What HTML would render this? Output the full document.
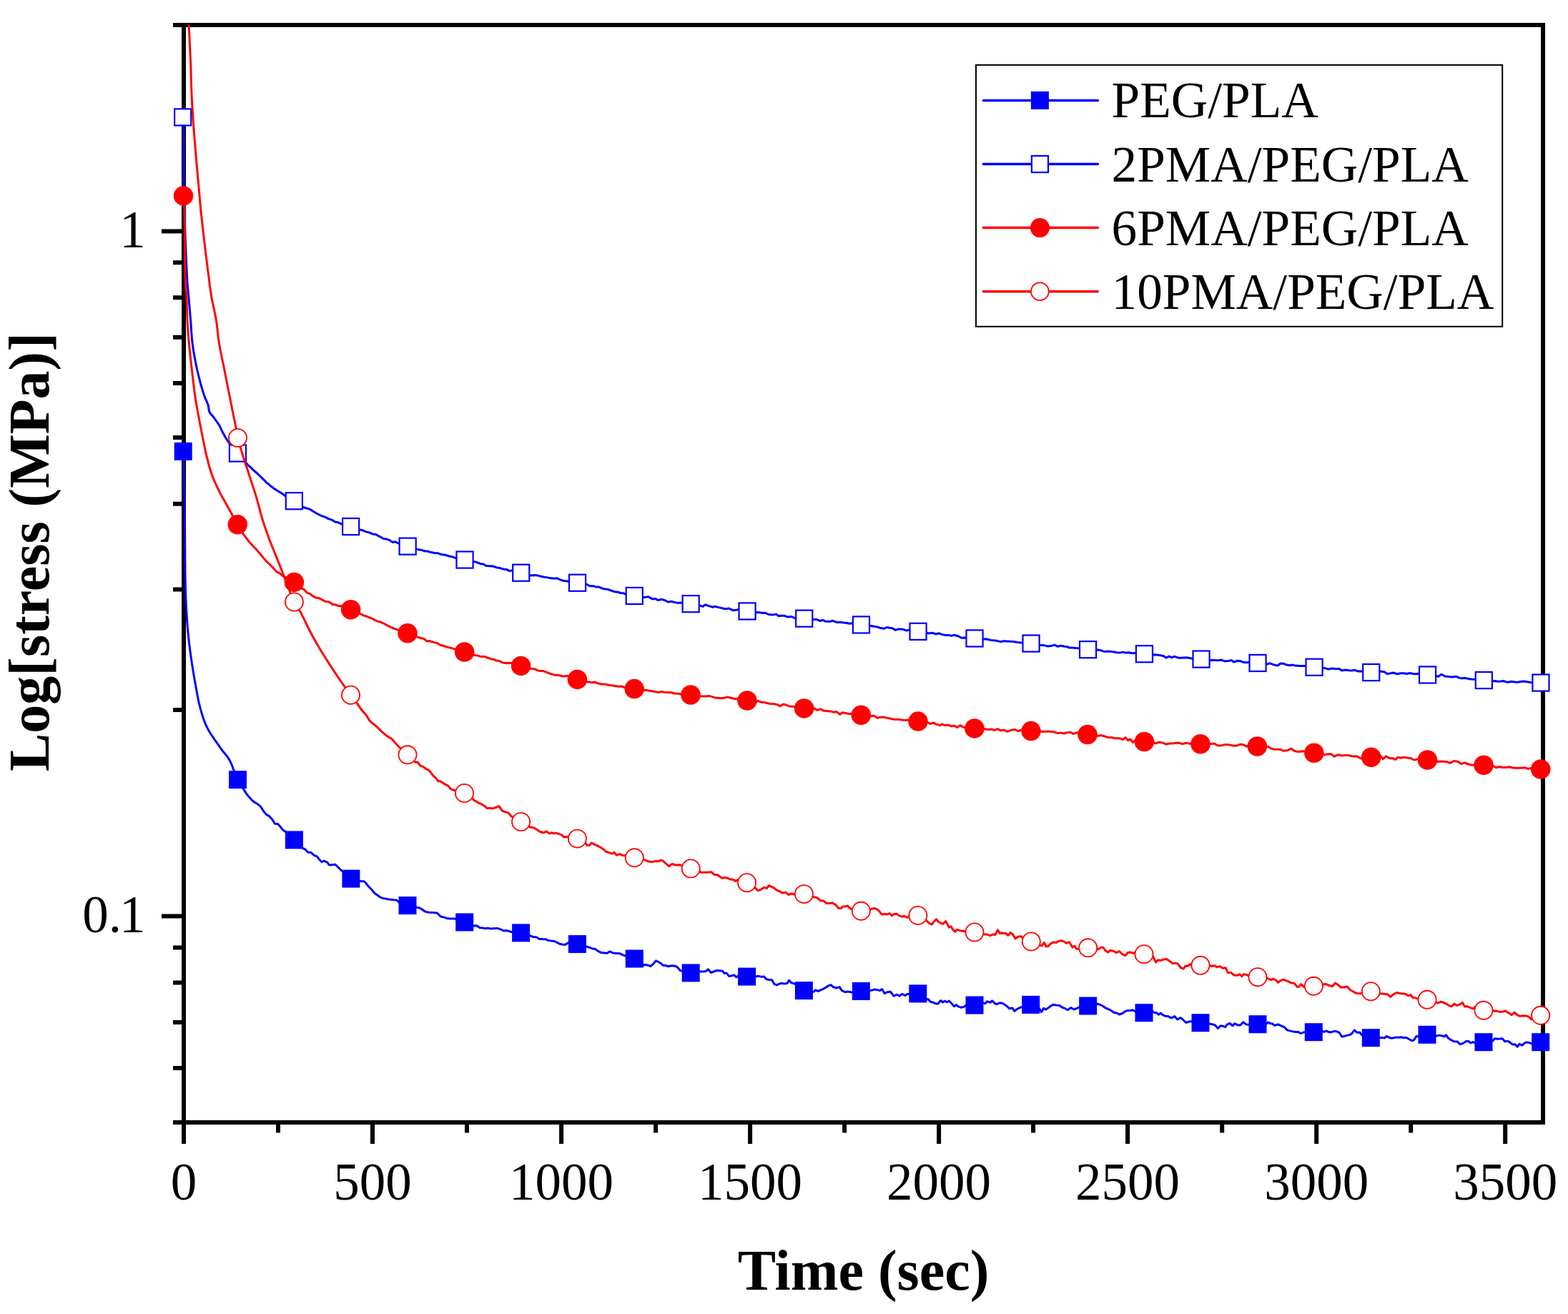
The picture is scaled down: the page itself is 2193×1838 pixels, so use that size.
<!DOCTYPE html><html><head><meta charset="utf-8"><title>Stress relaxation</title><style>html,body{margin:0;padding:0;background:#fff;overflow:hidden}svg{display:block}</style></head><body><svg width="2193" height="1838" viewBox="0 0 2193 1838">
<rect width="2193" height="1838" fill="#fff"/>
<defs><clipPath id="pc"><rect x="237.0" y="35.0" width="1941.0" height="1555.0"/></clipPath></defs>
<g stroke="#000" stroke-width="6.0" fill="none" stroke-linecap="butt">
<path d="M242.0,35.0 H2161.0 M242.0,1570.0 H2161.0 M257.0,32.0 V1573.0 M2158.0,32.0 V1573.0"/>
<path d="M242.0,1494.1 H257.0 M242.0,1430.0 H257.0 M242.0,1374.4 H257.0 M242.0,1325.4 H257.0 M242.0,993.1 H257.0 M242.0,824.4 H257.0 M242.0,704.7 H257.0 M242.0,611.9 H257.0 M242.0,536.0 H257.0 M242.0,471.8 H257.0 M242.0,416.3 H257.0 M242.0,367.3 H257.0 M226.0,1281.6 H257.0 M226.0,323.4 H257.0 M257.0,1570.0 V1600.0 M389.0,1570.0 V1584.5 M521.0,1570.0 V1600.0 M653.0,1570.0 V1584.5 M785.1,1570.0 V1600.0 M917.1,1570.0 V1584.5 M1049.1,1570.0 V1600.0 M1181.1,1570.0 V1584.5 M1313.1,1570.0 V1600.0 M1445.1,1570.0 V1584.5 M1577.1,1570.0 V1600.0 M1709.2,1570.0 V1584.5 M1841.2,1570.0 V1600.0 M1973.2,1570.0 V1584.5 M2105.2,1570.0 V1600.0"/>
</g>
<g font-family="'Liberation Serif', 'Times New Roman', serif" font-size="73" fill="#000">
<text x="257.0" y="1678.2" text-anchor="middle">0</text>
<text x="521.0" y="1678.2" text-anchor="middle">500</text>
<text x="785.1" y="1678.2" text-anchor="middle">1000</text>
<text x="1049.1" y="1678.2" text-anchor="middle">1500</text>
<text x="1313.1" y="1678.2" text-anchor="middle">2000</text>
<text x="1577.1" y="1678.2" text-anchor="middle">2500</text>
<text x="1841.2" y="1678.2" text-anchor="middle">3000</text>
<text x="2105.2" y="1678.2" text-anchor="middle">3500</text>
<text x="203.8" y="346.4" text-anchor="end">1</text>
<text x="203.6" y="1304.1" text-anchor="end">0.<tspan dx="-3">1</tspan></text>
</g>
<text x="1207.5" y="1804" text-anchor="middle" font-family="'Liberation Serif', 'Times New Roman', serif" font-weight="bold" font-size="80">Time (sec)</text>
<text transform="translate(68,1079) rotate(-90)" x="0" y="0" font-family="'Liberation Serif', 'Times New Roman', serif" font-weight="bold" font-size="80">Log[stress (MPa)]</text>
<g clip-path="url(#pc)">
<path d="M256.2,631.4L256.2,632.5L256.3,633.6L256.3,634.8L256.4,636.2L256.5,637.7L256.5,639.3L256.6,641.1L256.7,643.1L256.8,645.3L256.9,647.7L256.9,650.4L257.0,653.3L257.1,656.5L257.2,660.0L257.2,661.4L257.3,663.0L257.3,664.5L257.3,666.1L257.4,667.8L257.4,669.5L257.4,671.3L257.5,673.1L257.5,675.0L257.6,676.9L257.6,678.8L257.6,680.8L257.7,682.8L257.7,684.8L257.7,686.9L257.8,689.0L257.8,691.1L257.9,693.3L257.9,695.4L257.9,697.6L258.0,699.8L258.0,702.0L258.1,704.3L258.1,706.5L258.1,708.8L258.2,711.1L258.2,713.3L258.2,715.6L258.3,717.9L258.3,720.1L258.3,722.4L258.4,724.7L258.4,726.9L258.4,729.2L258.5,731.4L258.5,733.6L258.5,735.5L258.5,737.4L258.6,739.4L258.6,741.4L258.6,743.4L258.6,745.4L258.6,747.5L258.7,749.5L258.7,751.6L258.7,753.7L258.7,755.8L258.7,757.9L258.7,760.1L258.7,762.2L258.7,764.4L258.7,766.5L258.8,768.7L258.8,770.8L258.8,773.0L258.8,775.1L258.8,777.3L258.8,779.4L258.8,781.6L258.8,783.7L258.8,785.8L258.9,788.0L258.9,790.1L258.9,792.1L258.9,794.2L258.9,796.3L259.0,798.3L259.0,800.3L259.0,802.3L259.0,804.3L259.1,806.2L259.1,808.1L259.1,810.0L259.1,811.8L259.2,813.7L259.2,815.4L259.3,817.2L259.3,818.9L259.4,821.4L259.4,823.9L259.5,826.3L259.6,828.6L259.7,830.9L259.7,833.2L259.8,835.4L259.9,837.6L260.0,839.8L260.1,841.9L260.2,843.9L260.3,846.0L260.4,848.0L260.5,850.0L260.6,851.9L260.7,853.8L260.8,855.7L260.9,857.6L261.1,859.5L261.2,861.3L261.3,863.2L261.4,865.0L261.5,866.8L261.7,868.6L261.8,870.4L261.9,872.1L262.1,873.9L262.2,875.7L262.4,878.0L262.6,880.3L262.8,882.5L263.0,884.7L263.2,886.8L263.4,888.9L263.6,890.9L263.8,893.0L264.0,894.9L264.2,896.9L264.5,898.9L264.7,900.8L264.9,902.7L265.2,904.6L265.4,906.5L265.7,908.5L265.9,910.4L266.2,912.3L266.4,914.3L266.7,916.3L267.0,918.3L267.3,920.3L267.6,922.4L267.9,924.5L268.2,926.6L268.5,928.8L268.9,930.9L269.2,933.1L269.6,935.2L269.9,937.3L270.3,939.5L270.6,941.6L271.0,943.7L271.3,945.8L271.7,947.8L272.0,949.8L272.4,951.8L272.7,953.8L273.0,955.7L273.4,957.5L273.7,959.3L274.0,961.0L274.4,963.5L274.9,965.8L275.2,968.0L275.6,970.1L276.0,972.2L276.4,974.1L276.7,976.0L277.1,977.9L277.5,979.8L277.9,981.6L278.3,983.5L278.8,985.4L279.3,987.3L279.8,989.3L280.3,991.2L280.8,993.1L281.4,995.0L281.9,996.9L282.5,998.8L283.1,1000.7L283.6,1002.6L284.3,1004.4L284.9,1006.3L285.6,1008.2L286.3,1010.1L287.1,1012.0L287.9,1013.9L288.8,1015.8L289.7,1017.7L290.6,1019.5L291.6,1021.3L292.7,1023.2L293.9,1025.0L295.0,1026.9L296.3,1028.8L297.5,1030.7L298.8,1032.5L300.0,1034.4L301.3,1036.2L302.6,1038.0L303.8,1039.7L305.0,1041.4L306.1,1043.0L307.2,1044.5L308.2,1046.0L309.7,1048.1L311.1,1050.0L312.5,1051.7L313.8,1053.2L315.0,1054.7L316.2,1056.1L317.4,1057.6L318.6,1059.3L319.8,1061.1L321.0,1063.2L321.9,1064.9L322.7,1066.7L323.6,1068.6L324.4,1070.5L325.2,1072.6L326.0,1074.7L326.8,1076.8L327.6,1079.0L328.4,1081.1L329.3,1083.1L330.1,1085.1L330.9,1087.1L331.7,1088.9L332.5,1090.6L333.7,1092.8L334.9,1095.0L336.1,1097.1L337.3,1099.1L338.5,1100.9L339.7,1102.7L340.0,1102.8L343.7,1108.9L347.7,1114.1L352.2,1119.1L355.5,1122.0L358.3,1123.4L363.2,1126.9L365.8,1130.0L368.6,1134.7L372.4,1139.2L376.9,1141.9L381.1,1146.8L384.4,1152.2L388.7,1152.6L391.9,1156.2L395.4,1160.7L399.0,1163.1L403.8,1168.0L407.3,1171.3L410.4,1174.0L413.8,1177.0L418.6,1181.3L422.8,1185.9L427.1,1188.4L430.9,1192.3L434.4,1192.2L439.3,1196.4L443.3,1197.9L446.1,1201.7L450.0,1205.8L453.0,1204.2L457.6,1206.1L460.4,1210.0L463.9,1209.8L468.8,1209.2L471.8,1212.0L476.6,1216.8L480.9,1220.4L484.0,1224.6L487.6,1227.0L490.4,1228.8L493.6,1230.1L497.7,1230.8L500.5,1231.5L504.4,1232.5L509.2,1232.7L511.9,1235.5L514.9,1239.5L518.9,1243.4L523.8,1249.2L528.0,1252.3L530.7,1254.3L535.0,1256.5L538.7,1256.9L542.1,1257.8L546.5,1258.2L550.8,1258.8L554.3,1258.9L559.0,1262.9L563.6,1264.1L567.7,1265.8L570.5,1266.7L575.5,1268.1L579.8,1267.9L583.5,1269.5L586.2,1269.7L589.9,1271.7L594.0,1274.8L597.2,1275.7L600.4,1276.2L605.1,1276.5L608.5,1276.8L611.6,1277.2L616.3,1282.0L620.3,1282.9L624.8,1284.4L629.1,1285.1L632.8,1285.0L636.0,1284.9L639.3,1287.4L644.2,1288.3L648.9,1289.7L653.2,1291.2L655.9,1292.1L659.6,1294.7L662.5,1294.9L666.6,1294.8L671.1,1297.7L675.4,1298.1L678.0,1298.8L682.3,1298.3L686.6,1299.1L690.6,1298.8L695.4,1298.4L700.2,1300.0L704.2,1301.9L707.8,1301.5L712.6,1302.8L716.7,1304.1L720.8,1304.6L724.0,1304.4L727.9,1304.8L731.3,1305.6L734.1,1306.4L738.0,1306.6L741.7,1308.8L745.5,1310.6L750.5,1311.0L754.3,1313.4L758.3,1313.6L762.7,1313.7L766.6,1315.4L770.5,1316.1L775.3,1316.5L779.3,1318.4L782.6,1320.3L786.2,1321.0L790.1,1321.6L794.9,1318.8L797.7,1320.5L802.5,1320.3L806.1,1320.5L809.9,1321.0L814.6,1322.7L817.5,1322.8L821.8,1324.5L824.5,1325.4L828.9,1327.1L832.7,1327.6L836.7,1330.7L841.0,1332.6L845.5,1332.9L849.4,1333.2L852.6,1330.9L856.6,1332.7L860.0,1333.4L864.1,1333.6L867.2,1333.8L871.9,1336.1L875.5,1337.2L879.4,1338.1L883.9,1339.7L887.8,1341.3L892.1,1343.7L895.6,1346.6L899.3,1350.3L902.3,1349.5L907.0,1350.3L909.7,1351.8L913.9,1348.1L917.4,1343.9L919.9,1345.0L924.3,1347.5L927.7,1350.6L930.6,1350.5L934.8,1351.7L939.2,1350.8L942.8,1350.9L947.1,1352.5L951.3,1357.5L954.7,1358.5L958.8,1357.8L962.2,1360.0L965.8,1360.8L970.4,1360.9L975.0,1359.9L978.0,1358.7L981.6,1359.0L984.6,1358.9L987.4,1358.4L990.4,1355.8L994.3,1360.5L997.4,1359.3L1002.0,1357.5L1006.7,1357.8L1010.5,1358.2L1013.1,1361.5L1016.0,1361.1L1019.8,1365.6L1023.5,1364.8L1026.8,1363.9L1029.9,1367.0L1033.1,1364.0L1036.5,1365.7L1039.1,1365.7L1043.2,1366.0L1047.4,1366.3L1051.6,1366.3L1056.1,1366.2L1060.4,1365.2L1063.2,1365.9L1065.8,1366.2L1068.6,1365.9L1071.7,1369.5L1075.1,1370.5L1079.7,1370.8L1082.7,1376.4L1086.6,1377.9L1089.7,1376.2L1093.6,1375.3L1096.5,1376.1L1101.0,1375.6L1103.5,1371.3L1107.2,1374.9L1109.9,1375.4L1113.2,1377.2L1116.2,1380.2L1118.9,1383.2L1123.1,1385.2L1126.6,1386.1L1130.8,1386.0L1134.1,1387.4L1138.2,1387.2L1140.9,1384.7L1143.6,1386.5L1147.6,1385.0L1151.8,1383.1L1154.5,1381.4L1158.6,1378.9L1161.9,1377.6L1165.2,1380.5L1169.7,1382.0L1174.2,1380.6L1177.4,1385.7L1181.9,1387.7L1185.3,1387.1L1188.6,1387.4L1192.9,1388.5L1197.2,1387.0L1201.6,1386.7L1204.2,1386.5L1208.8,1386.0L1213.1,1386.4L1215.8,1385.8L1219.9,1385.1L1222.7,1384.1L1226.6,1384.4L1230.3,1385.7L1233.6,1383.5L1237.2,1389.7L1241.3,1387.5L1245.6,1387.3L1250.0,1393.1L1254.6,1391.2L1258.2,1393.2L1261.6,1390.4L1265.8,1392.5L1268.7,1390.5L1271.9,1390.4L1274.6,1389.3L1278.8,1389.1L1282.6,1389.6L1285.2,1390.5L1288.2,1392.3L1292.1,1395.3L1294.9,1398.3L1298.1,1397.5L1301.2,1401.2L1305.7,1402.3L1309.3,1404.1L1311.9,1404.0L1315.6,1399.5L1318.7,1402.0L1321.2,1400.1L1324.5,1401.8L1327.4,1400.0L1330.6,1403.2L1334.5,1407.7L1337.6,1405.5L1340.1,1407.8L1344.5,1409.3L1348.5,1408.1L1352.1,1405.1L1356.5,1407.4L1360.7,1406.4L1365.0,1405.6L1368.7,1404.5L1371.9,1403.8L1374.6,1402.7L1377.9,1403.9L1380.6,1400.7L1384.9,1402.4L1387.5,1399.9L1391.2,1403.4L1393.8,1404.8L1397.6,1403.0L1400.9,1402.9L1404.3,1404.8L1407.4,1406.7L1411.9,1410.8L1416.0,1410.1L1418.9,1414.3L1422.8,1411.3L1427.2,1409.1L1429.9,1409.0L1433.3,1407.9L1437.8,1406.0L1442.0,1405.4L1445.3,1406.1L1449.2,1408.4L1453.4,1410.4L1456.5,1415.7L1459.7,1410.4L1462.9,1412.1L1465.6,1410.1L1468.8,1407.8L1472.6,1405.3L1477.2,1405.9L1481.2,1406.2L1485.4,1409.0L1489.0,1410.3L1493.4,1412.7L1497.8,1409.5L1501.6,1411.7L1504.2,1411.3L1508.7,1409.1L1511.5,1409.0L1514.8,1408.2L1518.1,1407.6L1521.6,1407.0L1525.8,1406.5L1530.0,1404.7L1534.5,1404.3L1537.3,1404.8L1539.9,1406.0L1543.2,1407.8L1546.2,1409.9L1550.3,1411.7L1553.7,1413.3L1558.1,1416.4L1561.9,1417.0L1565.4,1419.0L1569.4,1417.8L1573.9,1414.6L1577.6,1413.4L1580.8,1413.5L1584.2,1412.7L1588.6,1415.2L1591.7,1415.4L1596.3,1416.1L1599.1,1416.6L1603.6,1417.0L1608.3,1417.1L1612.0,1414.6L1614.9,1416.7L1617.5,1416.5L1620.3,1419.3L1623.5,1417.1L1626.1,1419.6L1629.7,1421.2L1633.7,1421.4L1636.9,1423.6L1639.8,1423.6L1642.7,1421.6L1646.7,1425.9L1651.2,1423.6L1654.9,1426.7L1658.8,1430.5L1663.1,1429.0L1667.5,1428.6L1672.1,1429.7L1676.5,1430.3L1680.5,1430.9L1683.6,1431.5L1687.9,1431.4L1692.5,1432.2L1695.4,1432.7L1699.0,1433.6L1703.5,1438.4L1707.1,1434.7L1710.9,1435.4L1713.8,1436.6L1716.4,1432.9L1720.2,1431.5L1724.0,1434.8L1726.7,1431.7L1731.2,1433.9L1734.8,1434.1L1738.8,1429.8L1743.0,1432.9L1746.8,1433.3L1751.0,1433.7L1754.1,1432.7L1757.7,1432.7L1761.4,1432.7L1764.0,1432.5L1767.4,1431.9L1770.1,1432.7L1773.9,1429.9L1776.7,1431.7L1779.3,1431.7L1782.4,1434.5L1785.1,1433.4L1788.0,1432.9L1792.3,1435.3L1795.6,1436.3L1800.2,1440.9L1804.9,1442.1L1808.4,1442.9L1812.8,1443.4L1816.2,1443.6L1818.8,1445.6L1822.9,1444.1L1826.7,1443.2L1830.2,1444.4L1834.8,1443.7L1837.4,1443.7L1840.7,1443.6L1845.1,1442.3L1848.4,1441.8L1851.8,1443.3L1854.7,1442.0L1857.6,1443.2L1860.8,1444.0L1865.4,1442.6L1868.8,1442.6L1872.8,1444.1L1876.9,1450.2L1880.7,1449.3L1883.3,1448.4L1887.5,1447.6L1890.3,1446.0L1894.6,1440.9L1897.7,1444.3L1901.6,1444.0L1904.6,1447.8L1907.4,1447.8L1911.4,1449.9L1915.1,1451.1L1919.5,1452.0L1923.2,1452.1L1926.5,1452.4L1929.8,1451.6L1933.9,1451.4L1936.5,1452.0L1939.1,1449.4L1942.9,1451.3L1946.2,1452.2L1949.3,1451.8L1952.8,1450.9L1956.0,1451.3L1958.9,1450.7L1962.2,1451.5L1966.7,1451.3L1970.2,1453.3L1974.7,1455.8L1977.5,1455.0L1980.9,1449.6L1984.0,1449.7L1986.6,1447.4L1989.9,1448.2L1993.9,1447.5L1997.1,1447.2L2000.1,1447.2L2002.7,1446.6L2005.4,1447.0L2008.9,1449.1L2012.9,1448.1L2016.5,1448.8L2019.6,1449.9L2022.6,1447.8L2025.1,1451.7L2029.4,1454.7L2033.9,1456.8L2038.1,1456.9L2042.1,1460.8L2046.7,1459.2L2050.3,1456.6L2053.6,1456.2L2056.7,1458.9L2059.9,1457.6L2062.6,1458.6L2065.3,1457.2L2069.5,1457.5L2072.4,1457.7L2075.4,1457.7L2079.7,1457.1L2083.7,1457.5L2087.0,1456.3L2090.7,1452.8L2094.8,1453.2L2097.6,1453.1L2101.5,1452.8L2104.6,1456.8L2107.7,1456.3L2110.5,1457.0L2115.2,1460.9L2118.9,1460.8L2122.3,1464.1L2125.1,1460.2L2128.6,1462.3L2132.7,1458.6L2135.5,1457.9L2138.6,1458.4L2142.1,1459.9L2146.5,1457.8L2149.4,1458.4L2152.5,1457.9L2154.7,1457.7" fill="none" stroke="#0000ff" stroke-width="3.0" stroke-linejoin="round"/>
<rect x="243.7" y="618.9" width="25.0" height="25.0" fill="#0000ff"/><rect x="320.0" y="1078.1" width="25.0" height="25.0" fill="#0000ff"/><rect x="398.9" y="1162.4" width="25.0" height="25.0" fill="#0000ff"/><rect x="478.4" y="1216.6" width="25.0" height="25.0" fill="#0000ff"/><rect x="557.5" y="1254.1" width="25.0" height="25.0" fill="#0000ff"/><rect x="637.2" y="1277.5" width="25.0" height="25.0" fill="#0000ff"/><rect x="716.1" y="1292.4" width="25.0" height="25.0" fill="#0000ff"/><rect x="794.9" y="1308.1" width="25.0" height="25.0" fill="#0000ff"/><rect x="874.8" y="1328.5" width="25.0" height="25.0" fill="#0000ff"/><rect x="953.7" y="1348.4" width="25.0" height="25.0" fill="#0000ff"/><rect x="1032.1" y="1353.6" width="25.0" height="25.0" fill="#0000ff"/><rect x="1111.9" y="1373.1" width="25.0" height="25.0" fill="#0000ff"/><rect x="1191.8" y="1374.0" width="25.0" height="25.0" fill="#0000ff"/><rect x="1271.3" y="1377.4" width="25.0" height="25.0" fill="#0000ff"/><rect x="1350.5" y="1393.5" width="25.0" height="25.0" fill="#0000ff"/><rect x="1429.2" y="1392.9" width="25.0" height="25.0" fill="#0000ff"/><rect x="1509.2" y="1394.5" width="25.0" height="25.0" fill="#0000ff"/><rect x="1587.5" y="1404.2" width="25.0" height="25.0" fill="#0000ff"/><rect x="1666.5" y="1418.2" width="25.0" height="25.0" fill="#0000ff"/><rect x="1746.5" y="1420.2" width="25.0" height="25.0" fill="#0000ff"/><rect x="1824.8" y="1431.2" width="25.0" height="25.0" fill="#0000ff"/><rect x="1904.8" y="1439.2" width="25.0" height="25.0" fill="#0000ff"/><rect x="1983.5" y="1434.8" width="25.0" height="25.0" fill="#0000ff"/><rect x="2062.5" y="1445.2" width="25.0" height="25.0" fill="#0000ff"/><rect x="2142.2" y="1445.2" width="25.0" height="25.0" fill="#0000ff"/>
<path d="M257.0,176.0L257.0,177.1L257.0,178.4L257.0,179.8L257.1,181.4L257.1,183.1L257.1,184.9L257.1,186.9L257.1,188.9L257.1,191.1L257.2,193.3L257.2,195.5L257.2,197.8L257.2,200.1L257.3,202.4L257.3,204.8L257.3,207.1L257.3,209.4L257.3,211.6L257.4,213.9L257.4,216.0L257.4,218.0L257.4,220.0L257.4,222.1L257.4,224.2L257.4,226.2L257.4,228.3L257.5,230.3L257.5,232.3L257.5,234.3L257.5,236.3L257.5,238.3L257.5,240.2L257.5,242.2L257.5,244.2L257.5,246.2L257.5,248.1L257.5,250.1L257.5,252.1L257.6,254.0L257.6,256.0L257.6,258.0L257.6,260.0L257.6,262.0L257.6,264.0L257.7,266.0L257.7,268.0L257.7,270.0L257.7,272.0L257.8,274.0L257.8,276.0L257.8,278.0L257.8,280.0L257.9,282.0L257.9,284.0L257.9,286.0L258.0,288.0L258.0,290.0L258.0,292.0L258.1,294.0L258.1,296.0L258.2,298.0L258.2,300.0L258.2,302.0L258.3,304.0L258.3,305.9L258.4,307.8L258.5,309.8L258.5,311.7L258.6,313.6L258.6,315.5L258.7,317.4L258.7,319.4L258.8,321.3L258.9,323.3L259.0,325.3L259.0,327.3L259.1,329.3L259.2,331.4L259.2,333.5L259.3,335.6L259.4,337.8L259.5,340.0L259.6,341.8L259.6,343.7L259.7,345.7L259.8,347.7L259.9,349.8L260.0,351.9L260.1,354.0L260.1,356.2L260.2,358.3L260.3,360.5L260.4,362.7L260.5,364.9L260.6,367.1L260.7,369.3L260.8,371.4L260.9,373.5L261.0,375.6L261.1,377.6L261.2,379.6L261.3,381.5L261.3,383.4L261.4,385.1L261.5,386.9L261.6,388.5L261.7,390.0L261.9,392.9L262.0,395.4L262.2,397.6L262.4,399.6L262.5,401.3L262.7,403.0L262.8,404.6L263.0,406.2L263.2,407.9L263.4,409.7L263.6,411.7L263.8,414.0L263.9,415.7L264.1,417.6L264.2,419.4L264.4,421.4L264.5,423.3L264.7,425.3L264.9,427.4L265.1,429.5L265.2,431.5L265.4,433.6L265.6,435.7L265.8,437.8L265.9,439.9L266.1,442.0L266.3,444.0L266.4,446.0L266.6,448.0L266.8,450.1L266.9,452.1L267.1,454.2L267.2,456.3L267.3,458.3L267.5,460.4L267.6,462.4L267.7,464.4L267.9,466.5L268.0,468.5L268.2,470.4L268.3,472.4L268.5,474.3L268.7,476.3L268.9,478.1L269.1,480.0L269.4,482.2L269.7,484.5L270.0,486.6L270.3,488.8L270.6,490.9L271.0,493.0L271.3,495.0L271.7,497.1L272.1,499.1L272.5,501.1L272.8,503.1L273.2,505.0L273.6,507.0L274.0,509.1L274.4,511.2L274.9,513.3L275.3,515.3L275.8,517.3L276.2,519.3L276.7,521.3L277.2,523.3L277.6,525.2L278.1,527.2L278.6,529.1L279.1,531.0L279.7,533.1L280.2,535.2L280.8,537.4L281.4,539.5L282.0,541.6L282.6,543.7L283.2,545.7L283.8,547.7L284.4,549.6L285.0,551.3L285.5,553.0L286.4,555.4L287.2,557.5L288.1,559.4L288.9,561.1L289.6,562.8L290.3,564.4L290.9,566.0L291.5,568.2L291.7,570.3L292.0,572.3L292.3,574.2L292.9,576.0L293.8,577.7L295.0,579.2L296.3,580.7L297.6,582.3L299.0,584.0L300.2,585.6L301.4,587.3L302.7,589.1L304.0,590.9L305.3,592.7L306.4,594.5L307.4,596.3L308.2,598.0L309.1,599.8L309.9,601.6L310.8,603.5L311.8,605.5L312.8,607.3L313.8,609.1L314.9,611.0L316.0,613.0L317.3,615.0L318.6,617.0L320.0,619.0L321.2,620.6L322.5,622.2L323.9,623.9L325.3,625.6L326.7,627.3L328.2,629.0L329.7,630.7L331.1,632.4L332.5,634.0L333.8,635.6L335.2,637.2L336.5,638.9L337.8,640.5L339.1,642.1L340.4,643.6L341.7,645.2L343.1,646.7L344.5,648.2L345.0,648.2L347.7,651.4L351.0,654.1L354.7,658.0L358.5,661.0L362.9,665.2L367.1,669.4L370.4,672.4L372.8,675.2L375.5,677.1L379.9,680.8L383.0,683.2L385.8,684.9L390.0,687.6L393.3,689.5L395.8,691.2L400.3,694.7L403.5,696.1L407.4,698.4L410.9,700.5L414.4,702.7L418.0,705.1L421.3,706.9L424.9,709.8L428.8,711.0L432.6,712.0L436.0,713.9L440.5,716.8L444.9,719.2L447.8,720.8L452.2,722.3L455.3,723.4L457.8,725.0L462.3,726.7L464.8,727.4L468.6,729.9L472.2,730.4L476.6,732.7L479.4,733.3L483.9,734.6L487.8,735.6L491.6,736.8L496.6,738.8L500.4,740.5L506.2,741.4L512.0,743.9L516.2,744.8L521.0,746.9L525.1,747.4L530.7,750.3L536.3,753.5L540.4,754.1L544.5,755.4L549.2,758.5L552.6,757.8L556.5,759.7L560.5,761.1L564.5,762.4L569.7,764.0L572.9,764.9L577.3,766.2L581.1,767.7L586.7,769.1L590.4,769.6L594.2,771.0L597.8,771.0L602.6,772.6L608.0,773.4L611.8,773.7L616.8,775.4L622.5,776.2L627.7,777.7L632.2,778.7L635.9,780.1L639.7,781.3L645.4,782.0L649.6,782.9L653.1,783.7L658.5,784.6L663.4,785.6L667.6,786.8L672.9,788.8L676.6,789.3L679.9,791.5L685.4,791.7L689.4,792.0L694.9,793.9L698.1,794.2L701.3,795.3L705.3,796.4L708.9,796.6L712.3,798.6L716.9,798.1L722.2,799.9L727.1,800.9L731.4,801.7L736.5,802.6L741.9,804.9L747.6,804.6L752.4,805.1L757.9,806.6L761.2,807.2L764.4,807.6L769.2,808.6L775.0,809.3L778.7,808.7L783.2,810.9L787.8,812.3L791.6,812.8L797.4,813.5L803.1,814.3L807.8,815.3L811.0,815.9L816.4,817.4L820.5,817.3L824.9,819.7L829.8,819.7L833.9,821.1L837.4,820.9L841.3,822.7L844.7,823.8L849.3,824.3L854.0,825.8L859.9,827.8L864.4,828.3L868.1,829.5L872.2,829.7L876.3,832.0L880.5,831.9L885.5,833.1L889.3,833.8L892.9,834.1L896.8,835.2L901.7,835.4L906.4,834.7L912.1,837.7L916.5,837.4L920.3,839.6L925.4,838.2L930.5,840.0L934.5,842.1L938.7,841.3L944.3,842.6L948.3,843.4L952.5,843.0L956.5,843.4L960.0,843.9L964.8,844.4L968.3,844.9L974.0,846.4L978.1,846.8L982.8,848.4L986.6,845.8L991.4,847.6L996.8,849.3L1000.0,848.2L1004.2,849.4L1008.7,850.4L1014.2,851.7L1019.6,851.1L1025.2,853.7L1030.0,853.2L1033.7,852.4L1038.3,854.3L1043.3,854.7L1047.2,855.2L1050.7,856.1L1055.5,856.7L1061.2,856.6L1066.7,857.6L1070.5,857.3L1075.1,859.5L1080.3,860.1L1085.5,859.1L1089.1,861.7L1092.5,861.2L1096.8,861.2L1101.4,863.1L1107.0,862.5L1112.6,865.1L1116.7,864.6L1120.4,864.6L1126.1,865.3L1131.5,866.0L1137.3,866.7L1141.3,866.2L1147.1,868.5L1150.8,867.3L1154.1,869.1L1159.8,869.5L1164.7,868.3L1170.5,870.5L1175.5,870.3L1179.9,870.9L1183.6,871.2L1187.6,872.3L1192.6,871.8L1196.3,872.9L1201.9,873.6L1206.5,874.1L1210.5,874.5L1215.7,875.0L1221.2,876.0L1226.0,876.7L1230.7,878.2L1236.3,879.3L1240.2,877.5L1244.0,878.3L1247.6,878.7L1252.6,881.3L1255.8,880.1L1260.1,880.1L1263.8,880.6L1268.0,882.0L1271.4,881.1L1276.8,882.0L1282.1,883.1L1287.5,883.7L1290.7,884.1L1294.8,884.7L1298.9,886.0L1304.2,885.3L1309.3,887.0L1313.2,885.8L1316.6,887.1L1322.3,888.6L1326.8,888.4L1330.3,889.4L1334.8,888.2L1340.4,890.0L1344.6,892.3L1349.4,892.0L1355.2,892.3L1360.9,892.7L1364.1,893.0L1369.3,893.8L1374.9,894.3L1379.0,893.7L1383.0,894.8L1386.2,895.4L1390.0,895.7L1395.2,896.6L1400.0,897.8L1403.3,896.7L1408.2,896.9L1413.7,897.3L1417.3,897.4L1422.9,898.4L1428.4,899.1L1432.4,899.8L1437.6,899.5L1440.8,899.9L1445.3,900.3L1448.9,900.9L1453.2,902.3L1459.0,902.4L1464.8,903.9L1470.1,903.6L1475.0,902.1L1479.6,904.3L1484.4,903.1L1488.5,904.2L1492.3,904.6L1495.6,906.0L1499.3,906.0L1504.8,906.6L1508.5,906.7L1512.2,907.4L1516.2,908.2L1521.9,908.6L1525.1,908.9L1530.4,909.3L1535.5,909.1L1539.8,909.8L1544.9,911.6L1550.4,911.0L1555.0,911.6L1558.3,911.9L1561.8,912.8L1567.2,912.9L1570.5,912.1L1574.4,913.1L1579.0,912.7L1583.0,913.7L1586.6,913.4L1592.4,913.5L1595.9,914.3L1599.5,914.6L1604.7,915.0L1609.3,915.9L1613.7,915.7L1618.0,915.9L1623.4,916.7L1627.6,917.7L1631.1,920.1L1635.1,918.1L1638.3,919.7L1643.1,918.3L1648.1,920.2L1652.8,920.3L1658.3,919.8L1662.4,920.2L1667.7,921.3L1671.7,921.3L1675.9,921.7L1681.2,922.1L1684.6,922.4L1688.8,922.9L1693.9,923.5L1697.7,923.3L1702.9,923.8L1708.3,923.1L1713.0,924.9L1718.0,924.5L1722.0,923.6L1725.6,926.0L1731.1,924.3L1735.0,924.8L1738.9,926.3L1744.2,926.7L1749.4,925.7L1753.8,927.2L1757.4,927.3L1763.2,927.7L1767.8,928.4L1772.1,929.0L1776.2,927.8L1781.4,929.8L1786.9,931.1L1790.8,928.0L1795.1,928.2L1798.6,929.7L1803.8,930.8L1807.3,930.0L1812.0,931.1L1817.4,931.6L1822.8,931.6L1826.5,931.5L1831.0,932.8L1835.5,933.0L1840.9,933.4L1844.4,933.8L1847.6,933.4L1852.3,934.4L1857.8,936.1L1862.9,935.0L1867.7,935.4L1872.7,935.4L1877.2,938.1L1881.4,937.0L1887.0,937.8L1890.6,938.0L1894.4,937.2L1898.8,938.9L1902.6,938.8L1907.2,939.6L1912.5,940.2L1915.7,940.4L1921.3,940.7L1926.5,941.3L1931.0,939.0L1936.5,939.9L1940.1,942.4L1944.2,941.9L1948.7,941.0L1954.1,942.7L1959.0,941.7L1963.7,941.7L1967.5,942.5L1971.4,941.5L1976.6,942.5L1979.8,942.8L1984.9,942.3L1988.3,943.1L1992.1,943.6L1997.4,944.0L2001.7,944.2L2005.9,944.5L2011.4,946.4L2015.9,943.3L2021.2,946.0L2026.2,946.6L2031.5,947.1L2036.5,946.2L2040.6,948.1L2044.4,948.9L2048.3,948.2L2051.6,949.1L2057.1,950.0L2062.9,950.2L2066.9,950.8L2072.5,951.3L2078.3,951.7L2083.9,952.3L2087.5,952.7L2090.9,952.5L2095.1,953.3L2098.9,953.0L2102.7,952.5L2106.0,953.7L2109.4,954.2L2114.0,953.3L2119.0,954.0L2122.7,954.2L2126.0,953.6L2131.5,952.9L2136.0,953.7L2140.4,954.4L2144.3,954.8L2147.7,955.6L2153.4,954.9L2155.0,955.0" fill="none" stroke="#0000ff" stroke-width="3.0" stroke-linejoin="round"/>
<rect x="244.1" y="152.4" width="23.1" height="23.1" fill="#fff" stroke="#0000ff" stroke-width="2.2"/><rect x="320.9" y="622.5" width="23.1" height="23.1" fill="#fff" stroke="#0000ff" stroke-width="2.2"/><rect x="399.8" y="689.2" width="23.1" height="23.1" fill="#fff" stroke="#0000ff" stroke-width="2.2"/><rect x="479.1" y="725.0" width="23.1" height="23.1" fill="#fff" stroke="#0000ff" stroke-width="2.2"/><rect x="558.6" y="752.6" width="23.1" height="23.1" fill="#fff" stroke="#0000ff" stroke-width="2.2"/><rect x="638.5" y="771.5" width="23.1" height="23.1" fill="#fff" stroke="#0000ff" stroke-width="2.2"/><rect x="717.2" y="789.7" width="23.1" height="23.1" fill="#fff" stroke="#0000ff" stroke-width="2.2"/><rect x="796.0" y="803.7" width="23.1" height="23.1" fill="#fff" stroke="#0000ff" stroke-width="2.2"/><rect x="875.7" y="821.9" width="23.1" height="23.1" fill="#fff" stroke="#0000ff" stroke-width="2.2"/><rect x="954.6" y="833.1" width="23.1" height="23.1" fill="#fff" stroke="#0000ff" stroke-width="2.2"/><rect x="1033.5" y="843.4" width="23.1" height="23.1" fill="#fff" stroke="#0000ff" stroke-width="2.2"/><rect x="1113.2" y="853.6" width="23.1" height="23.1" fill="#fff" stroke="#0000ff" stroke-width="2.2"/><rect x="1192.9" y="862.4" width="23.1" height="23.1" fill="#fff" stroke="#0000ff" stroke-width="2.2"/><rect x="1272.5" y="871.8" width="23.1" height="23.1" fill="#fff" stroke="#0000ff" stroke-width="2.2"/><rect x="1351.5" y="881.4" width="23.1" height="23.1" fill="#fff" stroke="#0000ff" stroke-width="2.2"/><rect x="1430.5" y="888.5" width="23.1" height="23.1" fill="#fff" stroke="#0000ff" stroke-width="2.2"/><rect x="1510.0" y="897.1" width="23.1" height="23.1" fill="#fff" stroke="#0000ff" stroke-width="2.2"/><rect x="1588.9" y="903.2" width="23.1" height="23.1" fill="#fff" stroke="#0000ff" stroke-width="2.2"/><rect x="1668.5" y="910.5" width="23.1" height="23.1" fill="#fff" stroke="#0000ff" stroke-width="2.2"/><rect x="1747.5" y="915.9" width="23.1" height="23.1" fill="#fff" stroke="#0000ff" stroke-width="2.2"/><rect x="1826.5" y="921.7" width="23.1" height="23.1" fill="#fff" stroke="#0000ff" stroke-width="2.2"/><rect x="1906.2" y="929.0" width="23.1" height="23.1" fill="#fff" stroke="#0000ff" stroke-width="2.2"/><rect x="1985.0" y="932.4" width="23.1" height="23.1" fill="#fff" stroke="#0000ff" stroke-width="2.2"/><rect x="2063.8" y="940.0" width="23.1" height="23.1" fill="#fff" stroke="#0000ff" stroke-width="2.2"/><rect x="2143.4" y="943.5" width="23.1" height="23.1" fill="#fff" stroke="#0000ff" stroke-width="2.2"/>
<path d="M256.5,274.0L256.6,275.0L256.7,275.9L256.8,276.9L256.9,278.0L257.0,279.2L257.1,280.6L257.2,282.2L257.4,284.2L257.5,286.4L257.7,289.1L257.8,292.2L257.9,295.8L258.0,300.0L258.0,301.3L258.1,302.8L258.1,304.3L258.1,305.9L258.1,307.6L258.2,309.3L258.2,311.1L258.2,313.0L258.2,315.0L258.3,317.0L258.3,319.0L258.3,321.1L258.3,323.3L258.3,325.5L258.4,327.7L258.4,330.0L258.4,332.3L258.4,334.6L258.5,336.9L258.5,339.2L258.5,341.6L258.5,343.9L258.5,346.3L258.6,348.7L258.6,351.0L258.6,353.4L258.6,355.7L258.7,358.0L258.7,360.3L258.7,362.5L258.7,364.7L258.7,366.9L258.8,369.1L258.8,371.2L258.8,373.2L258.8,375.2L258.9,377.1L258.9,379.0L258.9,380.8L258.9,382.5L259.0,384.2L259.0,385.8L259.0,387.3L259.1,388.7L259.1,390.0L259.2,394.3L259.4,397.7L259.5,400.4L259.7,402.5L259.8,404.2L260.0,405.5L260.2,406.6L260.3,407.7L260.5,408.8L260.6,410.2L260.8,411.9L260.9,414.0L261.0,415.7L261.1,417.5L261.1,419.4L261.2,421.3L261.2,423.3L261.3,425.3L261.3,427.3L261.4,429.3L261.4,431.4L261.5,433.5L261.5,435.6L261.6,437.7L261.7,439.8L261.7,441.9L261.8,443.9L261.9,446.0L262.0,448.0L262.1,450.0L262.2,452.0L262.3,454.0L262.5,456.0L262.6,458.0L262.7,460.0L262.9,462.0L263.0,464.0L263.2,466.0L263.3,468.0L263.5,470.0L263.6,472.0L263.8,474.0L264.0,476.0L264.1,478.0L264.3,480.0L264.5,482.0L264.7,484.0L264.9,486.0L265.1,488.0L265.3,489.9L265.5,491.9L265.7,493.9L265.9,495.9L266.1,497.8L266.3,499.8L266.6,501.8L266.8,503.8L267.0,505.8L267.2,507.8L267.5,509.8L267.7,511.9L268.0,513.9L268.2,516.0L268.4,518.0L268.7,520.0L268.9,522.1L269.1,524.2L269.4,526.3L269.6,528.5L269.9,530.6L270.1,532.8L270.4,534.9L270.6,537.1L270.9,539.2L271.2,541.3L271.4,543.4L271.7,545.4L271.9,547.4L272.2,549.3L272.4,551.2L272.7,553.0L273.1,555.4L273.4,557.7L273.8,560.0L274.1,562.2L274.5,564.3L274.8,566.4L275.2,568.4L275.5,570.4L275.9,572.3L276.2,574.2L276.6,576.2L276.9,578.1L277.3,580.0L277.7,582.2L278.1,584.3L278.5,586.3L278.9,588.3L279.2,590.2L279.6,592.2L280.0,594.2L280.4,596.2L280.9,598.4L281.3,600.6L281.8,603.0L282.1,604.7L282.5,606.6L282.9,608.4L283.2,610.3L283.6,612.3L284.0,614.3L284.4,616.4L284.8,618.4L285.2,620.5L285.6,622.5L286.0,624.6L286.5,626.6L286.9,628.7L287.3,630.6L287.8,632.6L288.2,634.5L288.7,636.6L289.2,638.8L289.7,640.9L290.2,643.0L290.8,645.0L291.3,647.1L291.8,649.2L292.4,651.2L292.9,653.2L293.5,655.2L294.1,657.2L294.7,659.1L295.3,661.1L296.0,663.0L296.7,665.1L297.5,667.1L298.3,669.2L299.2,671.2L300.0,673.2L300.9,675.2L301.8,677.1L302.7,679.1L303.6,680.9L304.5,682.8L305.3,684.6L306.2,686.3L307.0,688.0L308.0,690.0L309.0,691.9L309.9,693.6L310.8,695.2L311.7,696.8L312.7,698.4L313.6,700.1L314.7,701.9L315.8,703.8L317.0,706.0L317.9,707.6L318.8,709.3L319.8,711.1L320.9,713.0L321.9,715.0L323.0,717.0L324.1,719.0L325.2,721.1L326.3,723.1L327.4,725.1L328.5,727.0L329.5,728.9L330.5,730.6L331.4,732.3L332.3,733.8L333.6,736.0L334.7,738.0L335.7,739.8L336.7,741.4L337.6,742.9L338.5,744.4L339.5,745.9L340.6,747.4L341.8,749.1L343.0,750.7L344.4,752.5L345.0,753.2L349.2,758.9L352.2,761.9L354.9,765.0L357.8,767.7L361.5,772.1L364.5,775.6L368.7,780.6L372.7,785.3L376.9,789.2L381.0,793.3L384.3,797.0L387.0,799.8L390.9,801.7L394.9,805.2L397.8,806.9L401.3,808.5L404.6,810.5L408.1,812.3L411.3,814.3L415.1,817.1L419.5,820.7L422.3,823.3L425.1,824.5L429.3,829.1L433.6,830.7L437.5,833.9L441.5,835.9L445.2,836.3L449.2,838.1L452.3,840.0L455.2,841.3L459.0,841.7L462.4,843.2L465.0,845.7L468.1,845.4L471.8,847.0L476.0,847.9L479.2,847.6L482.6,849.8L485.7,851.0L490.8,852.9L495.8,855.0L499.9,856.4L503.9,858.5L508.1,860.7L513.3,862.3L517.0,863.9L521.6,865.7L525.1,867.9L528.6,869.1L532.8,870.3L536.3,871.8L542.1,875.1L546.7,877.3L552.2,879.6L555.7,880.7L559.3,881.7L563.4,883.1L568.5,885.3L574.2,887.3L578.9,889.0L584.3,891.3L588.9,892.5L593.5,893.8L596.9,896.9L600.1,896.5L605.6,898.1L610.9,899.4L616.0,902.2L621.2,903.8L625.7,905.1L630.9,906.4L634.8,907.6L640.5,909.3L644.7,910.7L649.9,912.1L655.5,913.7L659.2,914.3L663.9,916.4L669.3,917.4L673.2,918.6L677.7,918.3L682.9,920.5L687.2,921.8L690.7,922.5L694.3,924.0L698.2,924.5L702.9,926.9L708.5,927.4L713.4,927.2L717.2,928.3L720.4,929.3L724.5,930.4L728.6,931.4L733.6,932.7L737.3,933.9L742.4,935.3L746.8,935.4L752.1,937.9L755.5,938.6L759.6,938.6L763.3,939.8L769.0,942.2L774.7,943.9L779.1,944.2L782.4,944.8L788.2,946.3L792.8,945.1L798.0,948.6L803.7,949.6L809.6,950.8L813.2,951.7L816.8,952.4L821.1,953.7L824.6,954.1L827.8,954.8L831.2,954.0L835.2,955.5L840.3,956.9L844.2,957.1L847.6,957.3L851.1,958.3L855.9,958.7L860.4,959.6L865.0,960.3L869.4,959.9L874.5,962.0L879.5,962.6L882.7,962.9L887.8,963.7L892.1,964.2L896.2,964.6L899.8,965.7L903.4,965.3L907.7,966.3L911.9,966.7L917.3,967.7L921.5,968.4L925.3,967.5L931.0,968.6L934.4,968.6L939.0,968.8L942.2,969.8L945.5,970.2L949.7,970.3L953.4,971.5L957.8,970.9L962.9,971.7L967.9,972.2L973.4,973.8L977.6,973.4L981.1,973.9L985.9,973.9L991.6,973.4L996.9,974.9L1000.7,976.1L1006.2,976.6L1009.4,976.5L1013.9,976.1L1017.4,974.9L1021.4,976.0L1027.1,977.5L1031.0,977.5L1034.4,978.7L1038.1,979.1L1041.4,979.6L1046.9,980.2L1052.7,981.4L1056.4,982.4L1060.2,980.3L1064.9,982.3L1070.0,982.7L1073.8,983.8L1078.1,984.4L1081.9,984.5L1087.3,985.6L1091.0,987.8L1095.6,984.9L1099.9,986.3L1104.3,987.9L1109.8,988.2L1113.1,989.7L1117.9,989.9L1123.5,990.8L1127.9,991.3L1132.3,991.6L1137.5,990.2L1143.0,993.4L1147.8,991.9L1151.4,993.9L1156.4,994.6L1161.7,994.9L1166.4,996.3L1169.7,995.5L1174.7,999.3L1178.0,996.8L1182.8,997.4L1186.0,998.4L1190.1,998.6L1195.2,999.2L1198.7,999.5L1202.0,1000.0L1207.0,1000.6L1212.5,1000.9L1218.3,1001.8L1222.0,1001.0L1227.5,1004.4L1230.6,1003.2L1236.4,1003.2L1241.5,1004.4L1245.9,1005.3L1250.5,1006.3L1256.0,1006.3L1261.6,1007.1L1265.2,1007.4L1270.1,1007.0L1273.6,1008.2L1279.3,1008.5L1283.5,1009.0L1287.1,1009.5L1290.4,1010.3L1295.9,1009.5L1300.7,1012.6L1305.4,1010.9L1308.9,1012.9L1314.5,1014.6L1317.9,1012.8L1321.4,1014.6L1325.9,1013.9L1330.6,1015.9L1334.7,1015.0L1338.7,1017.6L1342.6,1014.7L1348.1,1017.4L1351.5,1018.4L1355.2,1017.6L1359.2,1018.6L1362.4,1018.9L1366.5,1019.2L1369.7,1019.4L1373.0,1020.1L1376.2,1019.4L1381.4,1020.5L1387.2,1019.9L1390.6,1021.6L1395.4,1019.5L1399.3,1021.9L1404.0,1021.0L1408.8,1023.3L1414.2,1021.3L1419.5,1020.6L1424.2,1022.6L1428.3,1021.1L1431.8,1022.9L1435.5,1022.1L1440.9,1022.5L1445.2,1022.8L1449.4,1022.9L1453.9,1023.0L1459.6,1023.5L1465.2,1022.9L1469.5,1023.2L1474.8,1024.0L1479.5,1025.6L1482.6,1024.9L1488.2,1026.0L1492.1,1024.7L1496.9,1024.2L1501.1,1026.4L1506.7,1024.6L1511.2,1026.8L1514.7,1026.8L1517.9,1027.2L1521.8,1027.6L1525.5,1027.9L1529.6,1027.3L1535.3,1029.4L1539.7,1028.5L1544.6,1029.8L1549.5,1031.4L1554.6,1031.5L1558.4,1032.5L1562.5,1032.8L1566.1,1032.7L1570.3,1034.6L1573.9,1031.6L1577.5,1035.5L1581.0,1034.0L1584.5,1038.6L1589.2,1034.3L1593.3,1036.8L1598.0,1037.3L1601.9,1037.6L1607.7,1037.5L1611.3,1037.6L1616.1,1039.8L1621.6,1038.1L1625.9,1038.9L1630.4,1041.0L1636.0,1040.0L1641.1,1039.8L1645.5,1039.3L1648.8,1039.1L1653.7,1040.6L1658.6,1039.2L1663.0,1040.0L1668.2,1040.7L1673.4,1040.4L1677.8,1040.7L1683.3,1040.8L1688.9,1041.5L1693.6,1040.4L1698.2,1040.0L1703.7,1043.1L1708.5,1042.7L1714.4,1041.4L1720.2,1041.9L1725.1,1043.3L1730.8,1042.7L1734.7,1041.0L1740.0,1041.9L1743.5,1044.2L1747.3,1042.4L1751.9,1043.6L1756.0,1043.8L1759.8,1044.1L1763.9,1044.5L1768.5,1045.4L1773.8,1044.3L1777.2,1046.7L1781.3,1047.9L1785.9,1048.2L1789.9,1048.2L1795.4,1050.3L1801.1,1049.4L1806.1,1047.2L1809.4,1050.0L1812.9,1051.0L1817.3,1051.4L1820.9,1050.8L1826.7,1051.3L1830.8,1052.9L1836.5,1053.2L1840.6,1053.6L1844.5,1054.0L1847.7,1054.2L1852.7,1055.7L1856.6,1054.9L1861.5,1054.6L1866.2,1058.2L1872.0,1055.7L1876.1,1056.9L1880.6,1056.6L1885.4,1056.5L1888.8,1057.2L1892.7,1058.1L1897.7,1057.7L1903.1,1061.1L1907.9,1058.8L1911.6,1058.6L1916.7,1059.1L1922.5,1059.4L1926.9,1059.8L1930.7,1057.3L1934.3,1061.8L1938.3,1057.9L1944.1,1060.8L1947.9,1060.6L1951.4,1062.5L1955.4,1059.1L1959.0,1060.3L1962.9,1059.3L1968.1,1060.0L1972.5,1060.5L1978.0,1063.1L1982.4,1061.9L1986.4,1062.7L1991.0,1062.6L1995.9,1063.0L2001.5,1063.3L2006.9,1060.4L2010.6,1065.5L2014.1,1065.0L2019.4,1065.2L2023.7,1065.4L2027.9,1067.4L2033.3,1064.6L2038.8,1065.3L2043.7,1068.5L2048.7,1066.9L2052.4,1068.5L2057.9,1070.1L2061.2,1070.2L2066.0,1068.6L2070.7,1069.9L2074.3,1070.1L2078.4,1070.5L2083.9,1071.7L2089.2,1071.7L2092.6,1073.7L2097.3,1072.5L2101.5,1073.5L2105.8,1073.4L2111.5,1072.8L2115.8,1074.1L2120.0,1074.3L2124.7,1074.2L2130.1,1074.0L2133.3,1074.0L2137.0,1075.3L2140.2,1074.8L2145.3,1074.7L2150.3,1075.7L2154.8,1076.0" fill="none" stroke="#ff0000" stroke-width="3.0" stroke-linejoin="round"/>
<circle cx="256.5" cy="273.9" r="13.75" fill="#ff0000"/><circle cx="332.3" cy="733.8" r="13.75" fill="#ff0000"/><circle cx="411.4" cy="814.4" r="13.75" fill="#ff0000"/><circle cx="490.6" cy="852.8" r="13.75" fill="#ff0000"/><circle cx="570.0" cy="885.8" r="13.75" fill="#ff0000"/><circle cx="649.6" cy="912.0" r="13.75" fill="#ff0000"/><circle cx="728.6" cy="931.4" r="13.75" fill="#ff0000"/><circle cx="807.4" cy="950.4" r="13.75" fill="#ff0000"/><circle cx="887.2" cy="963.6" r="13.75" fill="#ff0000"/><circle cx="966.0" cy="972.0" r="13.75" fill="#ff0000"/><circle cx="1044.9" cy="980.0" r="13.75" fill="#ff0000"/><circle cx="1124.6" cy="990.9" r="13.75" fill="#ff0000"/><circle cx="1204.3" cy="1000.3" r="13.75" fill="#ff0000"/><circle cx="1284.0" cy="1009.1" r="13.75" fill="#ff0000"/><circle cx="1362.9" cy="1018.9" r="13.75" fill="#ff0000"/><circle cx="1442.0" cy="1022.6" r="13.75" fill="#ff0000"/><circle cx="1521.0" cy="1027.5" r="13.75" fill="#ff0000"/><circle cx="1600.4" cy="1037.5" r="13.75" fill="#ff0000"/><circle cx="1679.0" cy="1040.7" r="13.75" fill="#ff0000"/><circle cx="1758.4" cy="1044.0" r="13.75" fill="#ff0000"/><circle cx="1837.8" cy="1053.3" r="13.75" fill="#ff0000"/><circle cx="1917.7" cy="1059.2" r="13.75" fill="#ff0000"/><circle cx="1996.4" cy="1063.0" r="13.75" fill="#ff0000"/><circle cx="2075.1" cy="1070.2" r="13.75" fill="#ff0000"/><circle cx="2154.8" cy="1076.0" r="13.75" fill="#ff0000"/>
<path d="M263.0,20.0L263.1,21.0L263.2,22.2L263.3,23.5L263.5,25.3L263.7,27.7L263.9,30.9L264.1,35.0L264.2,36.4L264.2,37.8L264.3,39.3L264.4,41.0L264.5,42.7L264.6,44.5L264.7,46.3L264.8,48.2L264.9,50.2L265.0,52.2L265.1,54.3L265.2,56.4L265.3,58.6L265.4,60.8L265.5,63.0L265.6,65.2L265.7,67.4L265.8,69.6L265.9,71.9L266.0,74.1L266.1,76.3L266.2,78.5L266.3,80.7L266.4,82.9L266.5,85.0L266.6,86.9L266.7,88.9L266.7,90.9L266.8,92.8L266.9,94.8L266.9,96.8L267.0,98.8L267.0,100.8L267.1,102.8L267.1,104.8L267.2,106.8L267.3,108.8L267.3,110.8L267.4,112.9L267.4,114.9L267.5,117.0L267.5,119.0L267.6,121.1L267.7,123.2L267.8,125.2L267.8,127.3L267.9,129.4L268.0,131.5L268.1,133.6L268.2,135.7L268.3,137.9L268.4,140.0L268.5,141.9L268.6,143.9L268.7,145.8L268.8,147.7L268.9,149.7L269.1,151.6L269.2,153.6L269.3,155.5L269.4,157.5L269.6,159.4L269.7,161.4L269.8,163.4L270.0,165.4L270.1,167.4L270.2,169.4L270.4,171.4L270.5,173.4L270.7,175.4L270.8,177.4L271.0,179.5L271.1,181.5L271.3,183.6L271.4,185.7L271.6,187.7L271.8,189.8L271.9,191.9L272.1,194.0L272.3,196.1L272.4,198.3L272.6,200.4L272.8,202.3L272.9,204.3L273.1,206.3L273.2,208.3L273.4,210.4L273.6,212.4L273.8,214.6L274.0,216.7L274.1,218.8L274.3,221.0L274.5,223.2L274.7,225.4L274.9,227.6L275.1,229.8L275.3,232.0L275.5,234.1L275.7,236.3L275.9,238.5L276.1,240.6L276.3,242.8L276.5,244.9L276.6,246.9L276.8,249.0L277.0,251.0L277.2,253.0L277.4,254.9L277.5,256.8L277.7,258.7L277.9,260.5L278.0,262.2L278.2,263.9L278.3,265.5L278.5,267.1L278.6,268.6L278.9,271.7L279.1,274.5L279.3,277.0L279.5,279.3L279.7,281.3L279.9,283.2L280.0,284.9L280.2,286.6L280.3,288.2L280.5,289.9L280.6,291.6L280.8,293.4L281.0,295.4L281.2,297.6L281.5,300.0L281.7,301.8L281.9,303.6L282.1,305.5L282.3,307.5L282.5,309.5L282.8,311.6L283.0,313.7L283.2,315.8L283.5,317.9L283.7,320.1L284.0,322.3L284.2,324.5L284.5,326.6L284.7,328.8L285.0,331.0L285.2,333.1L285.4,335.2L285.7,337.2L285.9,339.3L286.2,341.2L286.4,343.1L286.6,345.0L286.9,347.3L287.1,349.6L287.4,351.8L287.7,353.9L287.9,356.1L288.2,358.1L288.5,360.2L288.7,362.2L289.0,364.2L289.2,366.2L289.5,368.1L289.7,370.1L290.0,372.0L290.2,374.0L290.5,376.0L290.7,378.0L291.0,380.0L291.3,382.0L291.5,384.0L291.8,386.1L292.0,388.1L292.3,390.1L292.5,392.1L292.8,394.1L293.0,396.1L293.3,398.1L293.5,400.0L293.8,402.0L294.1,404.0L294.4,406.0L294.7,408.0L295.0,410.0L295.3,412.0L295.6,414.0L295.9,416.0L296.3,418.0L296.7,420.0L297.1,422.0L297.5,424.1L298.0,426.1L298.4,428.1L298.8,430.1L299.3,432.1L299.7,434.1L300.1,436.1L300.5,438.1L300.9,440.1L301.3,442.1L301.7,444.1L302.1,446.1L302.4,448.0L302.7,450.0L303.0,452.1L303.3,454.1L303.5,456.0L303.7,458.0L304.0,460.0L304.2,461.9L304.4,463.9L304.6,465.8L304.8,467.8L305.0,469.8L305.2,471.8L305.5,473.8L305.8,475.8L306.1,477.9L306.4,480.0L306.7,481.9L307.1,483.9L307.4,485.9L307.8,487.9L308.2,489.9L308.6,492.0L309.0,494.1L309.5,496.2L309.9,498.2L310.3,500.3L310.8,502.4L311.2,504.4L311.6,506.5L312.1,508.5L312.5,510.4L312.9,512.3L313.2,514.2L313.6,516.0L314.0,518.2L314.5,520.4L314.9,522.5L315.3,524.6L315.7,526.6L316.1,528.6L316.5,530.6L316.8,532.5L317.2,534.4L317.6,536.3L318.0,538.2L318.3,540.1L318.7,542.0L319.1,544.0L319.5,546.1L319.9,548.2L320.4,550.3L320.8,552.4L321.2,554.5L321.6,556.5L322.0,558.6L322.4,560.7L322.8,562.7L323.2,564.8L323.7,566.9L324.1,568.9L324.5,571.0L324.9,573.1L325.4,575.3L325.8,577.5L326.3,579.7L326.7,582.0L327.2,584.2L327.7,586.4L328.1,588.5L328.5,590.6L328.9,592.6L329.3,594.5L329.7,596.3L330.0,598.0L330.5,600.6L330.8,602.6L331.0,604.4L331.2,606.0L331.5,607.7L331.9,609.8L332.5,612.4L332.9,614.0L333.4,615.7L333.9,617.6L334.4,619.5L335.0,621.6L335.6,623.7L336.2,625.8L336.9,628.0L337.5,630.1L338.1,632.2L338.8,634.3L339.4,636.3L340.0,638.2L340.5,640.0L341.2,642.3L341.9,644.3L342.5,646.2L343.1,648.1L343.7,649.9L344.3,651.7L345.0,653.6L345.7,655.6L346.5,657.9L347.3,660.5L347.8,662.1L348.4,663.9L349.0,665.7L349.6,667.6L350.2,669.5L350.9,671.5L351.6,673.5L352.2,675.6L352.9,677.7L353.6,679.8L354.3,681.9L355.0,684.1L355.6,686.2L356.3,688.3L357.0,690.4L357.6,692.5L358.2,694.5L358.8,696.5L359.4,698.5L360.0,700.6L360.5,702.7L361.1,704.7L361.7,706.8L362.2,708.9L362.8,710.9L363.3,713.0L363.9,715.0L364.4,717.1L364.9,719.1L365.5,721.0L366.0,723.0L366.6,724.9L367.1,726.8L367.7,728.6L368.4,730.8L369.1,732.9L369.8,735.0L370.5,737.1L371.2,739.1L371.9,741.1L372.6,743.1L373.3,745.0L374.0,746.9L374.7,748.8L375.3,750.6L376.0,752.4L376.7,754.2L377.3,755.9L378.1,758.0L378.9,760.0L379.6,762.0L380.4,763.9L381.1,765.7L381.9,767.5L382.6,769.2L383.3,771.0L384.0,772.8L384.8,774.6L385.5,776.4L386.3,778.3L387.0,780.1L387.6,781.7L388.3,783.4L388.9,785.1L389.7,786.9L390.5,788.9L391.4,791.1L392.4,793.8L393.6,796.8L394.2,798.2L394.8,799.8L395.4,801.5L396.1,803.2L396.8,805.1L397.6,807.1L398.3,809.1L399.1,811.1L399.9,813.3L400.8,815.4L401.6,817.6L402.4,819.7L403.3,821.9L404.1,824.1L404.9,826.2L405.7,828.3L406.5,830.3L407.3,832.2L408.1,834.1L408.8,835.9L409.5,837.6L410.2,839.2L410.8,840.7L411.4,842.0L412.9,845.2L414.1,847.4L415.2,849.0L416.1,850.2L417.0,851.3L418.0,852.6L419.2,854.4L420.7,857.0L421.4,858.3L422.2,859.8L422.9,861.3L423.7,862.9L424.6,864.6L425.4,866.3L426.3,868.1L427.2,870.0L428.1,871.9L429.0,873.8L430.0,875.7L430.9,877.7L431.9,879.6L432.9,881.6L433.8,883.5L434.8,885.4L435.8,887.3L436.8,889.2L437.8,891.0L438.8,892.8L439.8,894.6L440.8,896.4L441.9,898.2L442.9,900.0L444.0,901.8L445.1,903.7L446.2,905.5L447.2,907.3L448.3,909.1L449.4,910.9L450.5,912.7L451.6,914.5L452.7,916.3L453.8,918.1L454.9,919.8L456.0,921.6L457.1,923.3L458.2,925.0L459.3,926.8L460.5,928.6L461.7,930.5L462.9,932.3L464.1,934.2L465.3,936.0L466.6,937.9L467.8,939.7L469.0,941.5L470.2,943.3L471.3,945.0L472.5,946.7L473.6,948.4L474.7,950.0L475.8,951.5L476.8,953.0L477.8,954.5L478.7,955.8L480.2,958.0L481.7,960.1L483.0,961.9L484.2,963.6L485.3,965.2L486.4,966.7L487.5,968.1L488.5,969.4L489.5,970.8L490.6,972.2L492.0,974.1L493.3,975.7L494.6,977.1L495.8,978.6L497.1,980.2L498.4,981.9L500.0,984.7L504.8,991.7L508.0,995.7L512.3,1000.6L516.7,1007.6L520.2,1011.1L524.7,1014.5L528.8,1018.2L533.0,1022.6L536.1,1025.2L539.7,1028.5L544.3,1031.5L547.3,1033.1L550.1,1036.1L554.0,1040.5L558.4,1045.2L561.3,1047.4L564.1,1049.9L567.0,1052.9L571.2,1056.9L574.9,1060.2L577.8,1062.7L581.0,1066.3L584.0,1066.0L587.9,1071.2L591.6,1072.4L595.5,1075.3L598.6,1076.7L602.3,1080.2L605.7,1085.0L609.7,1088.3L612.9,1092.8L615.9,1092.8L619.2,1094.9L623.2,1097.4L626.7,1099.2L630.7,1103.9L635.3,1105.2L638.9,1107.8L642.2,1107.4L646.3,1108.2L649.7,1109.5L652.6,1111.2L655.9,1113.7L659.8,1115.4L663.3,1119.7L666.2,1120.9L669.2,1123.2L672.4,1124.2L677.2,1127.1L681.1,1130.5L684.8,1130.5L689.5,1130.8L693.4,1129.5L698.0,1127.6L702.6,1134.3L705.4,1135.2L708.9,1136.4L711.6,1137.3L715.4,1142.2L720.3,1144.6L723.0,1146.5L726.2,1148.0L730.8,1150.6L734.4,1151.9L737.7,1156.1L742.2,1157.0L746.9,1157.9L751.8,1161.0L755.0,1163.3L759.9,1164.8L764.2,1163.0L768.7,1166.0L771.8,1164.6L774.7,1165.9L777.4,1165.1L782.0,1166.7L785.7,1167.9L788.5,1170.7L792.2,1170.8L795.1,1170.1L798.5,1171.5L803.4,1171.9L808.1,1173.4L811.9,1175.2L814.6,1177.0L818.1,1178.5L821.1,1182.2L824.2,1182.5L827.4,1179.1L832.0,1181.3L835.0,1182.6L839.7,1185.2L844.5,1188.2L847.3,1191.3L851.8,1192.5L855.6,1194.2L859.3,1192.3L862.2,1196.3L866.5,1194.6L871.3,1196.5L876.2,1197.0L879.3,1198.0L883.0,1198.7L887.4,1199.8L890.6,1200.4L893.6,1200.5L897.7,1201.0L902.4,1203.1L905.4,1204.3L909.7,1205.6L913.1,1205.4L917.0,1204.5L921.2,1204.7L924.3,1203.1L927.1,1204.2L930.8,1207.5L935.5,1211.7L939.9,1208.5L944.2,1209.8L947.4,1210.1L951.2,1209.7L954.2,1211.4L957.3,1212.7L961.7,1213.7L965.1,1214.6L967.9,1215.5L972.4,1217.5L975.7,1217.3L979.5,1220.0L982.6,1220.4L987.5,1220.2L991.5,1220.1L995.1,1219.8L999.0,1223.4L1003.5,1223.7L1007.5,1226.8L1010.4,1228.6L1014.0,1227.1L1018.4,1228.6L1021.1,1230.0L1024.7,1230.1L1029.0,1232.4L1032.2,1230.6L1036.0,1232.1L1038.9,1232.7L1043.5,1234.3L1047.4,1236.0L1050.1,1237.5L1054.0,1240.1L1056.9,1242.6L1059.9,1245.8L1064.2,1244.3L1068.7,1241.2L1072.4,1242.5L1075.3,1238.7L1078.5,1240.2L1082.3,1241.8L1085.9,1245.0L1090.0,1246.5L1093.8,1249.0L1096.3,1248.9L1099.3,1248.3L1102.4,1251.5L1107.0,1250.0L1111.1,1251.0L1114.0,1250.0L1116.9,1250.1L1120.2,1250.3L1123.7,1250.5L1128.2,1251.3L1130.8,1252.0L1133.4,1253.3L1137.5,1254.8L1141.7,1255.3L1144.5,1256.9L1147.3,1260.0L1151.6,1259.9L1156.0,1263.6L1159.9,1263.4L1164.6,1263.0L1169.1,1266.1L1173.0,1270.5L1176.2,1270.4L1179.0,1267.9L1181.9,1268.0L1185.5,1266.9L1188.7,1270.6L1192.4,1272.2L1196.4,1273.1L1199.9,1273.6L1202.5,1274.1L1207.0,1274.1L1209.8,1273.9L1213.7,1272.1L1217.3,1271.9L1220.2,1271.1L1223.6,1270.6L1226.4,1271.7L1229.8,1274.6L1233.2,1278.9L1237.6,1278.6L1240.6,1279.1L1244.2,1277.5L1247.6,1280.8L1250.5,1278.8L1253.4,1278.1L1257.2,1280.6L1261.7,1282.2L1264.5,1281.3L1269.1,1283.5L1273.4,1280.7L1276.2,1280.4L1279.2,1279.9L1283.0,1280.2L1286.2,1281.3L1289.9,1283.4L1292.7,1284.4L1296.8,1288.8L1299.6,1291.5L1303.2,1293.1L1306.3,1289.1L1309.6,1285.9L1312.5,1289.3L1316.3,1291.5L1318.8,1292.4L1322.8,1288.5L1327.4,1297.1L1330.0,1295.7L1332.8,1300.4L1336.0,1303.3L1338.6,1300.3L1341.2,1301.2L1343.8,1302.1L1347.4,1302.2L1350.1,1303.4L1354.6,1303.0L1359.0,1303.3L1363.2,1303.9L1366.7,1304.8L1371.3,1306.7L1374.2,1306.4L1378.2,1307.0L1381.6,1307.2L1384.5,1308.8L1389.1,1306.8L1391.7,1307.8L1395.5,1300.8L1398.3,1305.7L1401.3,1305.0L1404.4,1305.8L1407.0,1305.4L1409.8,1308.4L1413.3,1304.4L1416.9,1307.5L1419.9,1313.0L1422.5,1311.2L1425.1,1310.0L1428.5,1309.7L1431.1,1313.2L1433.9,1315.2L1437.1,1315.2L1440.6,1316.4L1444.6,1317.9L1448.7,1320.1L1451.4,1321.4L1454.2,1322.1L1456.7,1322.9L1460.5,1318.5L1463.1,1324.1L1465.9,1323.6L1469.4,1320.0L1473.1,1318.1L1477.4,1318.4L1480.1,1316.6L1483.8,1315.7L1487.5,1316.6L1491.3,1319.3L1495.5,1317.7L1500.1,1325.2L1502.8,1323.0L1505.5,1327.1L1509.5,1327.9L1513.8,1326.4L1516.8,1325.6L1521.2,1325.8L1524.2,1325.9L1528.0,1326.1L1532.0,1326.8L1535.4,1328.1L1538.3,1326.1L1542.5,1324.9L1545.9,1329.3L1549.5,1332.1L1552.8,1329.3L1557.2,1330.2L1561.5,1332.6L1565.7,1330.7L1570.0,1335.0L1574.1,1336.5L1577.1,1332.7L1580.5,1332.0L1584.6,1333.2L1589.2,1332.8L1593.7,1333.2L1596.5,1334.1L1599.8,1334.7L1602.9,1335.6L1605.9,1337.0L1608.6,1338.6L1612.3,1337.2L1616.6,1346.0L1619.4,1343.0L1623.9,1343.4L1627.5,1342.0L1631.3,1341.4L1635.8,1344.3L1640.2,1347.9L1643.4,1347.1L1647.0,1347.8L1651.4,1353.5L1655.1,1355.1L1658.2,1350.9L1661.3,1351.3L1664.4,1348.6L1667.5,1350.7L1672.0,1348.8L1675.6,1349.8L1679.4,1350.4L1683.5,1350.6L1687.6,1351.1L1690.2,1349.7L1694.7,1351.6L1698.3,1350.4L1701.9,1352.8L1705.7,1351.6L1710.0,1354.3L1714.1,1353.7L1717.4,1360.6L1721.6,1360.5L1725.9,1364.0L1730.6,1364.3L1733.9,1362.7L1736.8,1365.8L1739.4,1362.8L1742.9,1363.3L1747.2,1365.0L1750.8,1365.0L1755.2,1366.3L1759.3,1366.7L1762.7,1367.2L1766.3,1368.9L1769.0,1365.7L1773.1,1368.6L1777.5,1370.7L1780.8,1369.1L1784.4,1371.0L1787.5,1374.3L1790.4,1371.8L1795.1,1370.1L1799.4,1372.0L1802.6,1373.0L1806.2,1375.1L1810.4,1375.6L1814.0,1380.2L1816.9,1380.3L1819.5,1376.7L1823.9,1380.5L1827.6,1380.3L1831.6,1379.8L1834.5,1379.5L1838.7,1379.2L1842.6,1378.8L1845.7,1378.2L1848.5,1378.8L1851.8,1376.6L1854.6,1376.7L1859.1,1378.5L1863.6,1379.8L1867.3,1375.0L1871.9,1377.9L1875.7,1381.3L1880.2,1380.7L1884.2,1380.1L1888.7,1385.0L1892.6,1387.0L1895.8,1388.9L1899.9,1389.6L1903.4,1389.7L1907.1,1388.1L1910.0,1386.2L1912.9,1386.9L1915.5,1386.6L1919.6,1387.0L1923.0,1388.2L1926.4,1389.0L1929.4,1389.7L1933.6,1389.9L1937.0,1390.8L1940.9,1390.7L1944.5,1394.5L1949.1,1390.6L1953.4,1388.5L1956.7,1389.2L1959.3,1389.8L1963.5,1389.9L1966.2,1390.6L1969.8,1393.0L1973.0,1391.5L1975.9,1395.4L1979.0,1395.6L1983.3,1397.1L1987.2,1396.5L1991.9,1397.5L1995.6,1398.2L1998.2,1398.8L2001.0,1399.4L2004.8,1398.7L2008.1,1401.7L2010.6,1403.2L2015.0,1401.3L2017.8,1401.9L2020.6,1403.4L2023.2,1404.2L2026.2,1406.4L2030.4,1407.8L2033.9,1404.1L2037.4,1406.5L2040.8,1405.4L2045.4,1402.4L2048.4,1407.9L2051.6,1407.6L2056.0,1409.3L2060.0,1411.1L2063.5,1408.1L2066.7,1412.3L2070.1,1412.3L2073.4,1413.1L2077.6,1413.5L2082.2,1413.0L2086.3,1413.3L2090.1,1414.3L2092.9,1414.1L2097.5,1415.4L2101.8,1415.0L2105.3,1413.8L2108.3,1415.9L2111.2,1417.6L2114.0,1419.8L2118.2,1416.1L2122.2,1419.9L2125.2,1421.2L2127.7,1421.1L2132.0,1420.7L2135.2,1421.0L2138.6,1422.6L2141.7,1425.8L2146.0,1420.1L2149.8,1420.7L2152.5,1420.5L2154.7,1420.3" fill="none" stroke="#ff0000" stroke-width="3.0" stroke-linejoin="round"/>
<circle cx="332.5" cy="612.4" r="12.55" fill="#fff" stroke="#ff0000" stroke-width="1.8"/><circle cx="411.4" cy="842.0" r="12.55" fill="#fff" stroke="#ff0000" stroke-width="1.8"/><circle cx="490.6" cy="972.2" r="12.55" fill="#fff" stroke="#ff0000" stroke-width="1.8"/><circle cx="570.0" cy="1055.8" r="12.55" fill="#fff" stroke="#ff0000" stroke-width="1.8"/><circle cx="649.5" cy="1109.4" r="12.55" fill="#fff" stroke="#ff0000" stroke-width="1.8"/><circle cx="728.6" cy="1149.4" r="12.55" fill="#fff" stroke="#ff0000" stroke-width="1.8"/><circle cx="807.4" cy="1173.1" r="12.55" fill="#fff" stroke="#ff0000" stroke-width="1.8"/><circle cx="887.3" cy="1199.8" r="12.55" fill="#fff" stroke="#ff0000" stroke-width="1.8"/><circle cx="966.2" cy="1214.9" r="12.55" fill="#fff" stroke="#ff0000" stroke-width="1.8"/><circle cx="1044.6" cy="1234.7" r="12.55" fill="#fff" stroke="#ff0000" stroke-width="1.8"/><circle cx="1124.4" cy="1250.6" r="12.55" fill="#fff" stroke="#ff0000" stroke-width="1.8"/><circle cx="1204.3" cy="1274.3" r="12.55" fill="#fff" stroke="#ff0000" stroke-width="1.8"/><circle cx="1283.8" cy="1280.4" r="12.55" fill="#fff" stroke="#ff0000" stroke-width="1.8"/><circle cx="1363.0" cy="1303.9" r="12.55" fill="#fff" stroke="#ff0000" stroke-width="1.8"/><circle cx="1442.3" cy="1317.0" r="12.55" fill="#fff" stroke="#ff0000" stroke-width="1.8"/><circle cx="1521.7" cy="1325.8" r="12.55" fill="#fff" stroke="#ff0000" stroke-width="1.8"/><circle cx="1600.0" cy="1334.7" r="12.55" fill="#fff" stroke="#ff0000" stroke-width="1.8"/><circle cx="1679.0" cy="1350.3" r="12.55" fill="#fff" stroke="#ff0000" stroke-width="1.8"/><circle cx="1759.0" cy="1366.7" r="12.55" fill="#fff" stroke="#ff0000" stroke-width="1.8"/><circle cx="1837.3" cy="1379.3" r="12.55" fill="#fff" stroke="#ff0000" stroke-width="1.8"/><circle cx="1917.3" cy="1386.7" r="12.55" fill="#fff" stroke="#ff0000" stroke-width="1.8"/><circle cx="1996.0" cy="1398.3" r="12.55" fill="#fff" stroke="#ff0000" stroke-width="1.8"/><circle cx="2075.0" cy="1413.3" r="12.55" fill="#fff" stroke="#ff0000" stroke-width="1.8"/><circle cx="2154.7" cy="1420.3" r="12.55" fill="#fff" stroke="#ff0000" stroke-width="1.8"/>
</g>
<rect x="1365" y="90.9" width="736.2" height="365.9" fill="none" stroke="#000" stroke-width="2"/>
<line x1="1375.3" y1="140.4" x2="1535.4" y2="140.4" stroke="#0000ff" stroke-width="3.5" stroke-linecap="round"/>
<rect x="1441.9" y="127.9" width="25.0" height="25.0" fill="#0000ff"/>
<text x="1554.5" y="164.4" font-family="'Liberation Serif', 'Times New Roman', serif" font-size="71.3">PEG/PLA</text>
<line x1="1375.3" y1="229.6" x2="1535.4" y2="229.6" stroke="#0000ff" stroke-width="3.5" stroke-linecap="round"/>
<rect x="1442.9" y="218.0" width="23.1" height="23.1" fill="#fff" stroke="#0000ff" stroke-width="2.2"/>
<text x="1554.5" y="253.6" font-family="'Liberation Serif', 'Times New Roman', serif" font-size="71.3">2PMA/PEG/PLA</text>
<line x1="1375.3" y1="318.6" x2="1535.4" y2="318.6" stroke="#ff0000" stroke-width="3.5" stroke-linecap="round"/>
<circle cx="1454.4" cy="318.6" r="13.5" fill="#ff0000"/>
<text x="1554.5" y="342.6" font-family="'Liberation Serif', 'Times New Roman', serif" font-size="71.3">6PMA/PEG/PLA</text>
<line x1="1375.3" y1="407.7" x2="1535.4" y2="407.7" stroke="#ff0000" stroke-width="3.5" stroke-linecap="round"/>
<circle cx="1454.4" cy="407.7" r="12.4" fill="#fff" stroke="#ff0000" stroke-width="1.8"/>
<text x="1554.5" y="431.7" font-family="'Liberation Serif', 'Times New Roman', serif" font-size="71.3">10PMA/PEG/PLA</text>
</svg></body></html>
